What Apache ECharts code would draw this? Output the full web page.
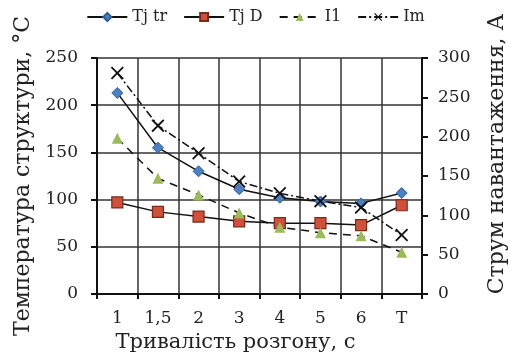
<!DOCTYPE html>
<html><head><meta charset="utf-8">
<script src="https://cdn.jsdelivr.net/npm/echarts@6/dist/echarts.min.js"></script>
<style>html,body{margin:0;padding:0;background:#fff}#c{width:511px;height:361px}</style>
</head><body><div id="c"></div>
<script>
const categories = ['1', '1,5', '2', '3', '4', '5', '6', 'Т'];
const tjTr = [213, 155, 130, 111, 102, 98, 96, 107];
const tjD = [97, 87, 82, 77, 75, 75, 73, 94];
const i1 = [198, 147, 126, 103, 85, 78, 74, 53];
const im = [281, 214, 179, 143, 128, 118, 110, 75];
const leftTicks = [0, 50, 100, 150, 200, 250];
const rightTicks = [0, 50, 100, 150, 200, 250, 300];

const F = 'DejaVu Serif';
const xMark = 'path://M1,0 L5,4 L9,0 L10,1 L6,5 L10,9 L9,10 L5,6 L1,10 L0,9 L4,5 L0,1 Z';
const chart = echarts.init(document.getElementById('c'), null, {renderer: 'canvas'});
chart.setOption({
  animation: false,
  backgroundColor: '#fff',
  textStyle: {fontFamily: F, color: '#222'},
  legend: {
    top: 4, left: 'center', itemWidth: 40, itemHeight: 10, itemGap: 16,
    textStyle: {fontFamily: F, fontSize: 16, color: '#222'},
    data: ['Tj tr', 'Tj D', 'I1', 'Im']
  },
  grid: {left: 97, right: 89, top: 58, bottom: 67, outerBoundsMode: 'none', containLabel: false},
  xAxis: {
    type: 'category', data: categories, boundaryGap: true,
    name: 'Тривалість розгону, с', nameLocation: 'middle', nameGap: 38,
    nameTextStyle: {fontFamily: F, fontSize: 21, color: '#222', padding: [0, 48, 0, 0]},
    axisLine: {lineStyle: {color: '#111', width: 2}},
    axisTick: {show: true, length: 5, lineStyle: {color: '#111', width: 2}},
    axisLabel: {fontFamily: F, fontSize: 17, color: '#222', margin: 16},
    splitLine: {show: true, lineStyle: {color: '#333', width: 1.5}}
  },
  yAxis: [{
    type: 'value', min: 0, max: 250, interval: 50, position: 'left',
    name: 'Температура структури, °С', nameLocation: 'middle', nameGap: 56,
    nameTextStyle: {fontFamily: F, fontSize: 22, color: '#222'},
    axisLine: {show: true, lineStyle: {color: '#111', width: 2}},
    axisTick: {show: true, length: 6, lineStyle: {color: '#111', width: 2}},
    axisLabel: {fontFamily: F, fontSize: 17, color: '#222', margin: 19,
      formatter: v => leftTicks.includes(v) ? String(v) : ''},
    splitLine: {show: true, lineStyle: {color: '#333', width: 1.5}}
  }, {
    type: 'value', min: 0, max: 300, interval: 50, position: 'right',
    name: 'Струм навантаження, А', nameLocation: 'middle', nameGap: 64,
    nameTextStyle: {fontFamily: F, fontSize: 22, color: '#222', padding: [0, 0, 0, 44]},
    axisLine: {show: true, lineStyle: {color: '#111', width: 2}},
    axisTick: {show: true, length: 6, lineStyle: {color: '#111', width: 2}},
    axisLabel: {fontFamily: F, fontSize: 17, color: '#222', margin: 16,
      formatter: v => rightTicks.includes(v) ? String(v) : ''},
    splitLine: {show: false}
  }],
  series: [{
    name: 'Tj tr', type: 'line', yAxisIndex: 0, data: tjTr,
    symbol: 'diamond', symbolSize: 11,
    lineStyle: {color: '#111', width: 1.5},
    itemStyle: {color: '#4a80c4', borderColor: '#2f5f9a', borderWidth: 1}
  }, {
    name: 'Tj D', type: 'line', yAxisIndex: 0, data: tjD,
    symbol: 'rect', symbolSize: 11,
    lineStyle: {color: '#111', width: 1.5},
    itemStyle: {color: '#d0503a', borderColor: '#7a2a1a', borderWidth: 1.2}
  }, {
    name: 'I1', type: 'line', yAxisIndex: 1, data: i1,
    symbol: 'triangle', symbolSize: 11,
    lineStyle: {color: '#111', width: 1.5, type: [8, 6]},
    itemStyle: {color: '#9bbb59', borderColor: '#9bbb59', borderWidth: 0}
  }, {
    name: 'Im', type: 'line', yAxisIndex: 1, data: im,
    symbol: xMark, symbolSize: 13,
    lineStyle: {color: '#111', width: 1.5, type: [8, 3, 2, 3]},
    itemStyle: {color: '#111', borderWidth: 0}
  }]
});
</script></body></html>
